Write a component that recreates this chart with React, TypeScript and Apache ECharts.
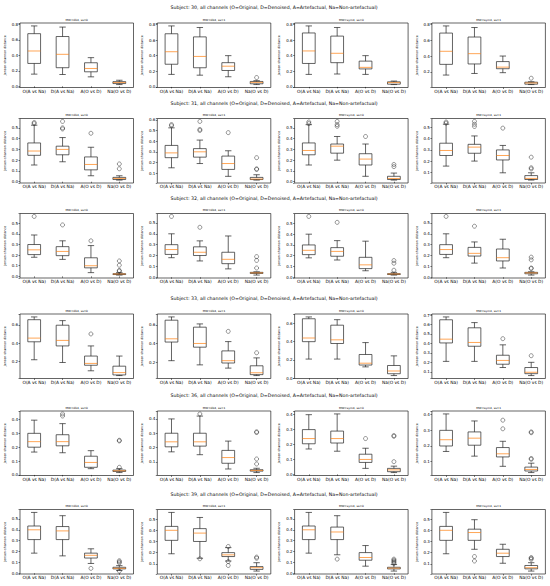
import React, { useEffect, useRef } from "react";
import * as echarts from "echarts";

const categories = ["O(A vs Na)", "D(A vs Na)", "A(O vs D)", "Na(O vs D)"];
const subjects = ["30", "31", "32", "33", "36", "39"];
const panelNames = ["MW=db4, ss=0", "MW=db4, ss=1", "MW=sym4, ss=0", "MW=sym4, ss=1"];
const yAxisTitle = "Jensen-shannon distance";

// each box: [lower whisker, Q1, median, Q3, upper whisker]; panels: db4 ss0, db4 ss1, sym4 ss0, sym4 ss1
const s30Boxes = [
  [[0.157, 0.295, 0.456, 0.68, 0.78], [0.152, 0.24, 0.413, 0.643, 0.765], [0.122, 0.187, 0.23, 0.304, 0.37], [0.022, 0.035, 0.048, 0.06, 0.078]],
  [[0.16, 0.29, 0.45, 0.68, 0.78], [0.15, 0.245, 0.39, 0.64, 0.76], [0.13, 0.21, 0.265, 0.31, 0.4], [0.03, 0.04, 0.058, 0.07, 0.08]],
  [[0.16, 0.3, 0.46, 0.69, 0.78], [0.165, 0.31, 0.43, 0.65, 0.76], [0.16, 0.23, 0.25, 0.33, 0.4], [0.03, 0.035, 0.055, 0.065, 0.075]],
  [[0.16, 0.295, 0.46, 0.69, 0.78], [0.18, 0.3, 0.43, 0.64, 0.76], [0.19, 0.24, 0.26, 0.33, 0.4], [0.04, 0.045, 0.06, 0.07, 0.075]],
];
const s30Outliers = [[], [[3, 0.12]], [], [[3, 0.12]]];

const s31Boxes = [
  [[0.155, 0.245, 0.285, 0.36, 0.525], [0.185, 0.25, 0.3, 0.33, 0.41], [0.055, 0.11, 0.16, 0.23, 0.32], [0.015, 0.02, 0.03, 0.04, 0.055]],
  [[0.15, 0.245, 0.29, 0.36, 0.525], [0.19, 0.25, 0.3, 0.33, 0.41], [0.07, 0.135, 0.19, 0.26, 0.31], [0.035, 0.04, 0.045, 0.06, 0.085]],
  [[0.155, 0.25, 0.29, 0.36, 0.53], [0.2, 0.265, 0.33, 0.35, 0.42], [0.05, 0.155, 0.21, 0.26, 0.35], [0.015, 0.02, 0.03, 0.05, 0.08]],
  [[0.155, 0.25, 0.295, 0.36, 0.53], [0.2, 0.27, 0.325, 0.35, 0.425], [0.095, 0.21, 0.25, 0.3, 0.34], [0.03, 0.035, 0.045, 0.07, 0.095]],
];
const s31Outliers = [
  [[0, 0.55], [0, 0.54], [1, 0.56], [1, 0.5], [1, 0.49], [2, 0.45], [3, 0.165], [3, 0.12]],
  [[0, 0.555], [0, 0.545], [1, 0.585], [1, 0.51], [1, 0.5], [2, 0.48], [3, 0.245], [3, 0.14], [3, 0.135]],
  [[0, 0.555], [0, 0.54], [1, 0.56], [1, 0.53], [1, 0.515], [2, 0.42], [3, 0.16], [3, 0.14]],
  [[0, 0.55], [0, 0.54], [1, 0.555], [1, 0.53], [1, 0.51], [2, 0.495], [3, 0.235], [3, 0.14], [3, 0.13]],
];

const s32Boxes = [
  [[0.18, 0.205, 0.25, 0.3, 0.39], [0.16, 0.195, 0.235, 0.28, 0.335], [0.035, 0.08, 0.1, 0.175, 0.29], [0.012, 0.017, 0.022, 0.025, 0.035]],
  [[0.18, 0.21, 0.255, 0.3, 0.4], [0.15, 0.2, 0.23, 0.28, 0.335], [0.077, 0.125, 0.165, 0.23, 0.38], [0.02, 0.035, 0.04, 0.045, 0.05]],
  [[0.18, 0.21, 0.25, 0.3, 0.4], [0.16, 0.195, 0.24, 0.275, 0.34], [0.06, 0.08, 0.115, 0.185, 0.335], [0.02, 0.025, 0.03, 0.033, 0.045]],
  [[0.18, 0.21, 0.255, 0.3, 0.4], [0.13, 0.195, 0.22, 0.275, 0.325], [0.085, 0.15, 0.18, 0.26, 0.35], [0.02, 0.032, 0.04, 0.045, 0.05]],
];
const s32Outliers = [
  [[0, 0.565], [1, 0.485], [2, 0.335], [3, 0.145], [3, 0.105], [3, 0.055], [3, 0.05]],
  [[0, 0.56], [1, 0.46], [3, 0.19], [3, 0.155], [3, 0.085]],
  [[0, 0.565], [1, 0.51], [3, 0.155], [3, 0.13], [3, 0.065]],
  [[0, 0.56], [1, 0.47], [3, 0.185], [3, 0.16], [3, 0.085], [3, 0.08]],
];

const s33Boxes = [
  [[0.22, 0.415, 0.455, 0.655, 0.685], [0.19, 0.37, 0.43, 0.595, 0.645], [0.1, 0.16, 0.18, 0.26, 0.37], [0.048, 0.055, 0.08, 0.15, 0.26]],
  [[0.215, 0.415, 0.45, 0.65, 0.685], [0.17, 0.36, 0.4, 0.575, 0.61], [0.135, 0.19, 0.215, 0.32, 0.42], [0.055, 0.065, 0.085, 0.16, 0.245]],
  [[0.21, 0.4, 0.44, 0.65, 0.67], [0.21, 0.38, 0.42, 0.58, 0.64], [0.125, 0.145, 0.165, 0.26, 0.39], [0.03, 0.05, 0.08, 0.14, 0.245]],
  [[0.21, 0.405, 0.445, 0.65, 0.68], [0.21, 0.37, 0.41, 0.565, 0.62], [0.145, 0.18, 0.22, 0.275, 0.385], [0.06, 0.08, 0.095, 0.145, 0.2]],
];
const s33Outliers = [[[2, 0.5]], [[2, 0.53], [3, 0.3]], [], [[2, 0.45], [3, 0.27]]];

const s36Boxes = [
  [[0.165, 0.2, 0.24, 0.3, 0.395], [0.16, 0.21, 0.24, 0.29, 0.37], [0.045, 0.055, 0.09, 0.135, 0.175], [0.017, 0.025, 0.03, 0.035, 0.045]],
  [[0.17, 0.205, 0.24, 0.3, 0.4], [0.15, 0.21, 0.24, 0.3, 0.42], [0.05, 0.09, 0.13, 0.18, 0.245], [0.025, 0.035, 0.04, 0.045, 0.055]],
  [[0.17, 0.205, 0.24, 0.3, 0.4], [0.155, 0.21, 0.24, 0.29, 0.405], [0.04, 0.08, 0.1, 0.135, 0.175], [0.012, 0.018, 0.03, 0.04, 0.055]],
  [[0.165, 0.2, 0.24, 0.3, 0.405], [0.135, 0.205, 0.25, 0.29, 0.36], [0.07, 0.13, 0.15, 0.19, 0.23], [0.03, 0.04, 0.05, 0.065, 0.09]],
];
const s36Outliers = [
  [[1, 0.44], [1, 0.425], [3, 0.25], [3, 0.245], [3, 0.055]],
  [[1, 0.435], [3, 0.31], [3, 0.305], [3, 0.12], [3, 0.085]],
  [[2, 0.24], [3, 0.26], [3, 0.255], [3, 0.085]],
  [[2, 0.365], [2, 0.31], [3, 0.29], [3, 0.285], [3, 0.12], [3, 0.115]],
];

const s39Boxes = [
  [[0.185, 0.31, 0.4, 0.435, 0.56], [0.16, 0.31, 0.39, 0.43, 0.53], [0.09, 0.14, 0.165, 0.185, 0.225], [0.025, 0.04, 0.045, 0.055, 0.07]],
  [[0.19, 0.31, 0.4, 0.435, 0.56], [0.15, 0.3, 0.375, 0.415, 0.515], [0.125, 0.165, 0.18, 0.2, 0.245], [0.035, 0.05, 0.065, 0.075, 0.11]],
  [[0.185, 0.31, 0.4, 0.435, 0.56], [0.17, 0.31, 0.38, 0.425, 0.53], [0.065, 0.12, 0.145, 0.19, 0.255], [0.02, 0.04, 0.047, 0.055, 0.08]],
  [[0.19, 0.31, 0.4, 0.435, 0.56], [0.23, 0.31, 0.38, 0.41, 0.495], [0.105, 0.165, 0.195, 0.23, 0.275], [0.035, 0.055, 0.065, 0.085, 0.11]],
];
const s39Outliers = [
  [[2, 0.045], [3, 0.115], [3, 0.105], [3, 0.095], [3, 0.02]],
  [[1, 0.145], [2, 0.255], [2, 0.12], [2, 0.085], [3, 0.16], [3, 0.15]],
  [[1, 0.13], [3, 0.13], [3, 0.12], [3, 0.11], [3, 0.1], [3, 0.09]],
  [[1, 0.165], [1, 0.125], [3, 0.155], [3, 0.15], [3, 0.14]],
];

const allBoxes = [s30Boxes, s31Boxes, s32Boxes, s33Boxes, s36Boxes, s39Boxes];
const allOutliers = [s30Outliers, s31Outliers, s32Outliers, s33Outliers, s36Outliers, s39Outliers];
const yTickSteps = [
  [0.2, 0.2, 0.2, 0.2],
  [0.1, 0.1, 0.1, 0.1],
  [0.1, 0.1, 0.1, 0.1],
  [0.2, 0.2, 0.2, 0.1],
  [0.1, 0.1, 0.1, 0.1],
  [0.1, 0.1, 0.1, 0.1],
];

const FONT = "DejaVu Sans";
const LW = 0.7;
const INK = "#000";

export default function App() {
  const ref = useRef<HTMLDivElement>(null);
  useEffect(() => {
    if (!ref.current) return;
    const chart = echarts.init(ref.current, null, { renderer: "svg" });
    const frameTops = [23, 118.5, 213.5, 314, 411, 509.5];
    const frameH = 64.5;
    const colLeft0 = 20;
    const colStep = 137.3;
    const frameW = 113.5;

    const grids: any[] = [];
    const xAxes: any[] = [];
    const yAxes: any[] = [];
    const series: any[] = [];
    const graphics: any[] = [];

    subjects.forEach((subj, r) => {
      graphics.push({
        type: "text",
        x: 274,
        y: frameTops[r] - 15.5,
        style: {
          text: `Subject: ${subj}, all channels (O=Original, D=Denoised, A=Artefactual, Na=Non-artefactual)`,
          font: `4.7px "${FONT}"`,
          fill: INK,
          textAlign: "center",
          textVerticalAlign: "middle",
        },
      });
      for (let c = 0; c < 4; c++) {
        const k = r * 4 + c;
        const left = colLeft0 + c * colStep;
        const top = frameTops[r];
        const boxes = allBoxes[r][c];
        const outs = allOutliers[r][c];
        const step = yTickSteps[r][c];
        let lo = Infinity;
        let hi = -Infinity;
        boxes.forEach((b) => {
          lo = Math.min(lo, b[0]);
          hi = Math.max(hi, b[4]);
        });
        outs.forEach((o) => {
          lo = Math.min(lo, o[1]);
          hi = Math.max(hi, o[1]);
        });
        const pad = (hi - lo) * 0.05;
        grids.push({
          left,
          top,
          width: frameW,
          height: frameH,
          show: true,
          borderColor: "#222",
          borderWidth: LW,
          backgroundColor: "transparent",
        });
        graphics.push({
          type: "text",
          x: left + frameW / 2,
          y: top - 3.6,
          style: {
            text: panelNames[c],
            font: `2.9px "${FONT}"`,
            fill: INK,
            textAlign: "center",
            textVerticalAlign: "middle",
          },
        });
        xAxes.push({
          gridIndex: k,
          type: "category",
          data: categories,
          boundaryGap: true,
          axisLine: { show: false },
          axisTick: { show: true, alignWithLabel: true, length: 1.5, lineStyle: { color: INK, width: 0.5 } },
          axisLabel: { interval: 0, fontSize: 4.4, margin: 1.8, color: INK, fontFamily: FONT },
          splitLine: { show: false },
        });
        yAxes.push({
          gridIndex: k,
          type: "value",
          min: lo - pad,
          max: hi + pad,
          minInterval: step,
          maxInterval: step,
          splitLine: { show: false },
          axisLine: { show: false },
          axisTick: { show: true, length: 1.5, lineStyle: { color: INK, width: 0.5 } },
          axisLabel: {
            fontSize: 4,
            margin: 2,
            color: INK,
            fontFamily: FONT,
            formatter: (v: number) => {
              const q = v / step;
              if (Math.abs(q - Math.round(q)) > 1e-6) return "";
              if (Math.abs(v) < 1e-9) return "0.0";
              return v.toFixed(1);
            },
          },
          name: yAxisTitle,
          nameLocation: "middle",
          nameGap: 14,
          nameRotate: 90,
          nameTextStyle: { fontSize: 3.2, color: INK, fontFamily: FONT },
        });
        series.push({
          type: "custom",
          xAxisIndex: k,
          yAxisIndex: k,
          data: boxes.map((b, i) => [i, b[0], b[1], b[2], b[3], b[4]]),
          encode: { x: 0, y: [1, 2, 3, 4, 5] },
          renderItem: (params: any, api: any) => {
            const idx = api.value(0);
            const pLo = api.coord([idx, api.value(1)]);
            const pQ1 = api.coord([idx, api.value(2)]);
            const pMed = api.coord([idx, api.value(3)]);
            const pQ3 = api.coord([idx, api.value(4)]);
            const pHi = api.coord([idx, api.value(5)]);
            const bw = api.size([1, 0])[0];
            const half = bw * 0.225;
            const cap = bw * 0.1125;
            const x = pLo[0];
            const ls = { stroke: "#222", lineWidth: LW, fill: "none" };
            return {
              type: "group",
              children: [
                { type: "rect", shape: { x: x - half, y: pQ3[1], width: half * 2, height: pQ1[1] - pQ3[1] }, style: ls },
                { type: "line", shape: { x1: x, y1: pQ1[1], x2: x, y2: pLo[1] }, style: ls },
                { type: "line", shape: { x1: x, y1: pQ3[1], x2: x, y2: pHi[1] }, style: ls },
                { type: "line", shape: { x1: x - cap, y1: pLo[1], x2: x + cap, y2: pLo[1] }, style: ls },
                { type: "line", shape: { x1: x - cap, y1: pHi[1], x2: x + cap, y2: pHi[1] }, style: ls },
                { type: "line", shape: { x1: x - half, y1: pMed[1], x2: x + half, y2: pMed[1] }, style: { stroke: "#ff7f0e", lineWidth: LW } },
              ],
            };
          },
        });
        series.push({
          type: "scatter",
          xAxisIndex: k,
          yAxisIndex: k,
          data: outs,
          symbol: "circle",
          symbolSize: 4,
          itemStyle: { color: "rgba(0,0,0,0)", borderColor: "#222", borderWidth: 0.6 },
        });
      }
    });

    chart.setOption({
      animation: false,
      backgroundColor: "#fff",
      textStyle: { fontFamily: FONT },
      grid: grids,
      xAxis: xAxes,
      yAxis: yAxes,
      series,
      graphic: graphics,
    });
    return () => chart.dispose();
  }, []);
  return <div ref={ref} style={{ position: "absolute", left: 0, top: 0, width: 550, height: 586 }} />;
}
